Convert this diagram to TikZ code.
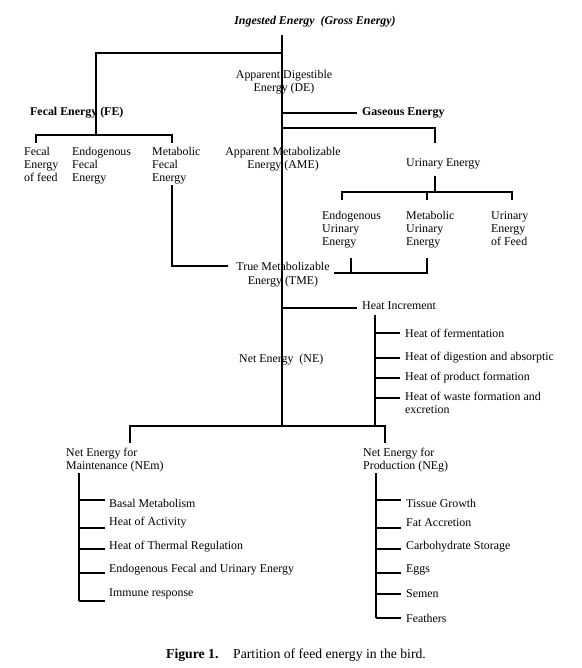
\documentclass[tikz,border=0pt]{standalone}
\usepackage{fontspec}
\setmainfont{Liberation Serif}
\usetikzlibrary{positioning}
\tikzset{
  txt/.style={inner sep=0pt,font=\fontsize{11.9}{13}\selectfont},
  txtl/.style={txt,anchor=north west,align=left},
  txtc/.style={txt,anchor=north,align=center},
  bold/.style={txt,anchor=west,font=\fontsize{11.9}{13}\selectfont\bfseries},
  wire/.style={line width=1.1pt},
}

\begin{document}
\begin{tikzpicture}[x=1pt,y=-1pt]
  \useasboundingbox (0,0) rectangle (581,668);
  % top of the tree
  \node[txt,font=\fontsize{11.9}{13}\selectfont\bfseries\itshape] (ge) at (315,22) {Ingested Energy\ \ (Gross Energy)};
  \node[txtc] (de) at (284,70) {Apparent Digestible\\Energy (DE)};
  \node[bold] (fe) at (30,113) {Fecal Energy (FE)};
  \node[bold] (gas) at (362,113) {Gaseous Energy};
  % fecal branch
  \node[txtl] (ff) at (24,147) {Fecal\\Energy\\of feed};
  \node[txtl] (ef) at (72,147) {Endogenous\\Fecal\\Energy};
  \node[txtl] (mf) at (152,147) {Metabolic\\Fecal\\Energy};
  % metabolizable energy and urine
  \node[txtc] (ame) at (283,147) {Apparent Metabolizable\\Energy (AME)};
  \node[txt,anchor=west] (ue) at (406,164) {Urinary Energy};
  \node[txtl] (eu) at (322,211) {Endogenous\\Urinary\\Energy};
  \node[txtl] (mu) at (406,211) {Metabolic\\Urinary\\Energy};
  \node[txtl] (uf) at (491,211) {Urinary\\Energy\\of Feed};
  \node[txtc] (tme) at (283,262) {True Metabolizable\\[1pt]Energy (TME)};
  % heat increment
  \node[txt,anchor=west] (hi) at (362,306) {Heat Increment};
  \node[txt,anchor=west] (h1) at (405,333) {Heat of fermentation};
  \node[txt,anchor=west] (h2) at (405,358) {Heat of digestion and absorptic};
  \node[txt,anchor=west] (h3) at (405,378) {Heat of product formation};
  \node[txtl] (h4) at (405,392) {Heat of waste formation and\\excretion};
  \node[txt,anchor=west] (ne) at (239,360) {Net Energy\ \ (NE)};
  % maintenance
  \node[txtl] (nem) at (66,448) {Net Energy for\\Maintenance (NEm)};
  \node[txt,anchor=west] (m1) at (109,503) {Basal Metabolism};
  \node[txt,anchor=west] (m2) at (109,523) {Heat of Activity};
  \node[txt,anchor=west] (m3) at (109,547) {Heat of Thermal Regulation};
  \node[txt,anchor=west] (m4) at (109,570) {Endogenous Fecal and Urinary Energy};
  \node[txt,anchor=west] (m5) at (109,594) {Immune response};
  % production
  \node[txtl] (neg) at (363,448) {Net Energy for\\Production (NEg)};
  \node[txt,anchor=west] (p1) at (406,503) {Tissue Growth};
  \node[txt,anchor=west] (p2) at (406,523) {Fat Accretion};
  \node[txt,anchor=west] (p3) at (406,547) {Carbohydrate Storage};
  \node[txt,anchor=west] (p4) at (406,570) {Eggs};
  \node[txt,anchor=west] (p5) at (406,594) {Semen};
  \node[txt,anchor=west] (p6) at (406,618) {Feathers};
  % caption
  \node[bold,font=\fontsize{13.7}{15}\selectfont\bfseries] (fig) at (166,655) {Figure 1.};
  \node[txt,anchor=west,font=\fontsize{13.7}{15}\selectfont] (cap) at (233,655) {Partition of feed energy in the bird.};

  % junctions
  \coordinate (trunk) at (282,35);
  \coordinate (jfe) at (282,53);
  \coordinate (jbot) at (282,426);
  \coordinate (jf) at (96,135);
  \coordinate (jgas) at (357,113);
  \coordinate (jue) at (435,128);
  \coordinate (jur) at (435,192);
  \coordinate (jtme) at (228,266);
  \coordinate (jtu) at (334,273);
  \coordinate (jhi) at (357,308);
  \coordinate (jnem) at (130,443);
  \coordinate (jneg) at (385,443);

  % trunk and fecal energy
  \draw[wire] (trunk) -- (jbot);
  \draw[wire] (jfe) -| (jf);
  \draw[wire] (36,143) |- (jf) -| (172,143);
  \draw[wire] (jfe |- jgas) -- (jgas);
  % urinary energy
  \draw[wire] (jfe |- jue) -- (jue) -- (435,143);
  \draw[wire] (435,176) -- (jur);
  \draw[wire] (342,200) |- (jur) -| (512,200);
  \draw[wire] (427,192) -- (427,200);
  % into TME
  \draw[wire] (172,185) |- (jtme);
  \draw[wire] (351,258) -- (351,273);
  \draw[wire] (427,258) -- (427,273) -- (jtu);
  % heat increment
  \draw[wire] (jfe |- jhi) -- (jhi);
  \draw[wire] (375,315) -- (375,426);
  \draw[wire] (375,333) -- (400,333);
  \draw[wire] (375,358) -- (400,358);
  \draw[wire] (375,378) -- (400,378);
  \draw[wire] (375,398) -- (400,398);
  % net energy split
  \draw[wire] (jnem) |- (jbot) -| (jneg);
  \draw[wire] (79,473) -- (79,601);
  \draw[wire] (79,500) -- (105,500);
  \draw[wire] (79,528) -- (105,528);
  \draw[wire] (79,549) -- (105,549);
  \draw[wire] (79,573) -- (105,573);
  \draw[wire] (79,601) -- (105,601);
  \draw[wire] (376,473) -- (376,618);
  \draw[wire] (376,500) -- (401,500);
  \draw[wire] (376,528) -- (401,528);
  \draw[wire] (376,549) -- (401,549);
  \draw[wire] (376,573) -- (401,573);
  \draw[wire] (376,594) -- (401,594);
  \draw[wire] (376,618) -- (401,618);
\end{tikzpicture}
\end{document}
